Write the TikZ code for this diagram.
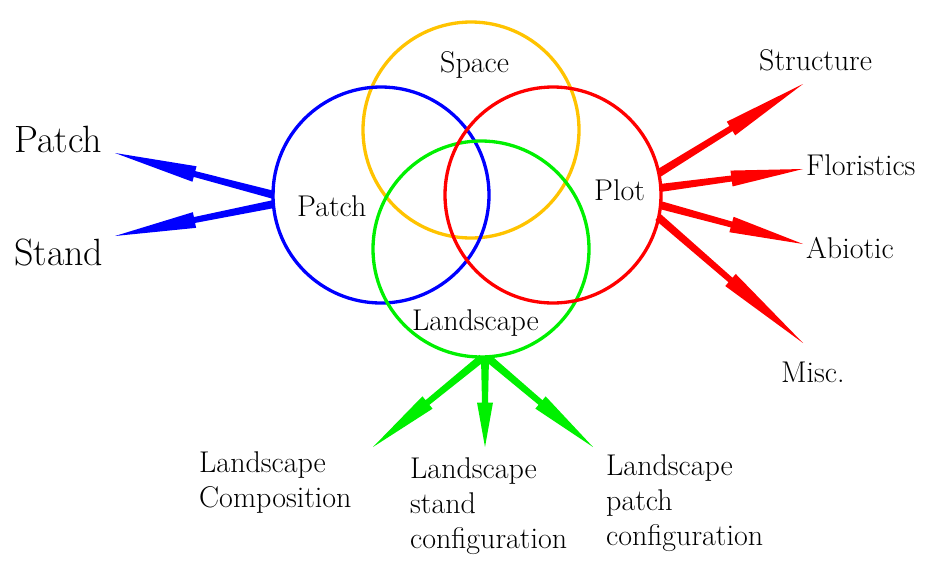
\documentclass[tikz,border=0pt]{standalone}
\usetikzlibrary{calc}
\definecolor{cyel}{RGB}{255,195,0}
\definecolor{cblue}{RGB}{0,0,255}
\definecolor{cred}{RGB}{255,0,0}
\definecolor{cgreen}{RGB}{0,240,0}
\newcommand\wedgearrow[3]{%
  \path ($(#2)!0.5!(#3)$) coordinate (wm);
  \fill[#1] ($(#2)!4pt!90:(#3)$) -- ($(wm)!3pt!90:(#3)$) -- ($(wm)!8pt!90:(#3)$) -- (#3)
    -- ($(wm)!8pt!-90:(#3)$) -- ($(wm)!3pt!-90:(#3)$) -- ($(#2)!4pt!-90:(#3)$) -- cycle;
}
\tikzset{
  ring/.style={circle, draw=#1, line width=3.3pt, minimum size=216pt, inner sep=0pt},
  lab/.style={font=\fontsize{30}{35}\selectfont, inner sep=0pt, anchor=base west},
  biglab/.style={font=\fontsize{38}{44}\selectfont, inner sep=0pt, anchor=base west},
  multilab/.style={font=\fontsize{30}{35}\selectfont, inner sep=0pt, anchor=north west, align=left},
}
\begin{document}
\begin{tikzpicture}[x=1pt,y=-1pt]
\useasboundingbox (0,0) rectangle (927,560);
% circles
\node[ring=cyel] (spacec) at (471,130) {};
\node[ring=cblue] (patchc) at (381,195) {};
\node[ring=cgreen] (landc) at (481,249) {};
\node[ring=cred] (plotc) at (553,195) {};
% inner labels
\node[lab] (space) at (440,72) {Space};
\node[lab] (patch) at (297,216) {Patch};
\node[lab] (plot) at (594,200) {Plot};
\node[lab] (land) at (412,330) {Landscape};
% outer labels
\node[biglab] (lpatch) at (14,152) {Patch};
\node[biglab] (lstand) at (14,265) {Stand};
\node[lab] (struct) at (759,70) {Structure};
\node[lab] (flor) at (806,175) {Floristics};
\node[lab] (abio) at (806,258) {Abiotic};
\node[lab] (misc) at (781,382) {Misc.};
\node[multilab] (lcomp) at (199,451) {Landscape\\Composition};
\node[multilab] (lstandc) at (410,457) {Landscape\\stand\\configuration};
\node[multilab] (lpatchc) at (606,454) {Landscape\\patch\\configuration};
% arrow endpoints
\coordinate (bs1) at (274,195); \coordinate (bt1) at (115,153);
\coordinate (bs2) at (274,204); \coordinate (bt2) at (115,236);
\coordinate (rs1) at (659,173); \coordinate (rt1) at (803,84);
\coordinate (rs2) at (660,188); \coordinate (rt2) at (803,169);
\coordinate (rs3) at (660,205); \coordinate (rt3) at (803,244);
\coordinate (rs4) at (658,217); \coordinate (rt4) at (803,343);
\coordinate (gs1) at (482,358); \coordinate (gt1) at (373,447);
\coordinate (gs2) at (485,358); \coordinate (gt2) at (485,447);
\coordinate (gs3) at (488,358); \coordinate (gt3) at (593,447);
% arrows
\wedgearrow{cblue}{bs1}{bt1}
\wedgearrow{cblue}{bs2}{bt2}
\wedgearrow{cred}{rs1}{rt1}
\wedgearrow{cred}{rs2}{rt2}
\wedgearrow{cred}{rs3}{rt3}
\wedgearrow{cred}{rs4}{rt4}
\wedgearrow{cgreen}{gs1}{gt1}
\wedgearrow{cgreen}{gs2}{gt2}
\wedgearrow{cgreen}{gs3}{gt3}
\end{tikzpicture}
\end{document}
